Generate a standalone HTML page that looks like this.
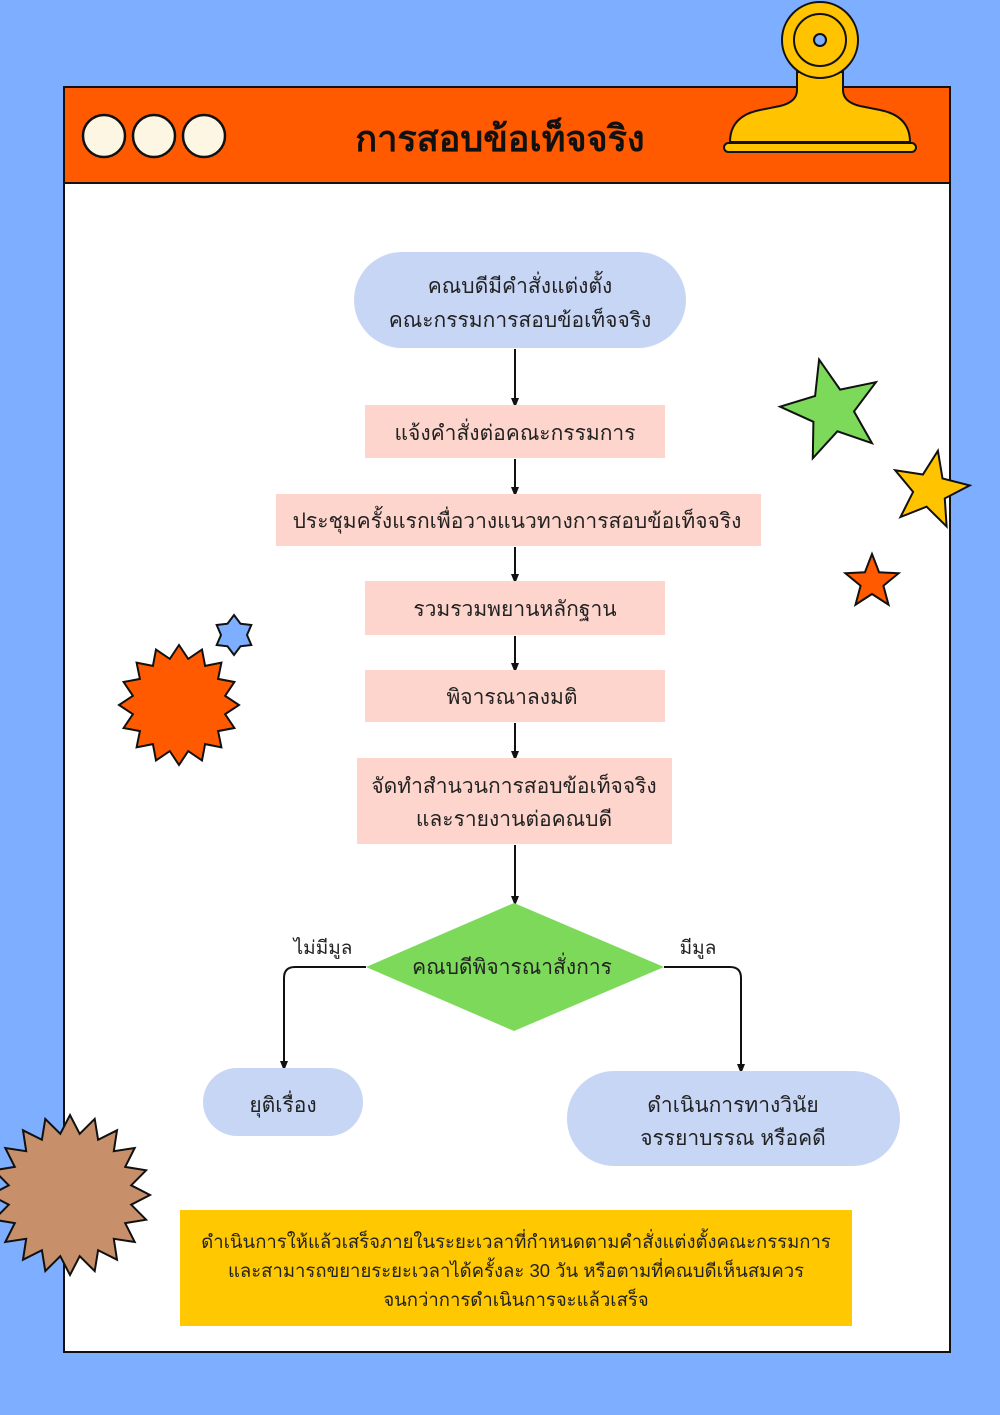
<!DOCTYPE html>
<html><head><meta charset="utf-8">
<style>
html,body{margin:0;padding:0;background:#7eaeff;}
svg{display:block}
text{font-family:"Liberation Sans","DejaVu Sans",sans-serif;fill:#222;}
</style></head>
<body>
<svg id="s" width="1000" height="1415" viewBox="0 0 1000 1415" xmlns="http://www.w3.org/2000/svg">
<defs><marker id="ar" markerWidth="10" markerHeight="10" refX="5" refY="5" orient="auto" markerUnits="userSpaceOnUse"><path d="M0,1 L10,5 L0,9 Z" fill="#111"/></marker></defs>
<rect width="1000" height="1415" fill="#7eaeff"/>
<rect x="64" y="87" width="886" height="1265" fill="#fff" stroke="#111" stroke-width="2"/>
<rect x="64" y="87" width="886" height="96" fill="#ff5a00" stroke="#111" stroke-width="2"/>
<circle cx="104" cy="136" r="21" fill="#fdf6e3" stroke="#111" stroke-width="2.5"/>
<circle cx="154" cy="136" r="21" fill="#fdf6e3" stroke="#111" stroke-width="2.5"/>
<circle cx="204" cy="136" r="21" fill="#fdf6e3" stroke="#111" stroke-width="2.5"/>
<text x="500" y="151" font-size="36" font-weight="bold" text-anchor="middle" style="fill:#111">การสอบข้อเท็จจริง</text>
<!-- clip -->
<path d="M797,72 L797,90 Q797,102 780,106 L760,110 Q730,116 730,142 L910,142 Q910,116 880,110 L860,106 Q843,102 843,90 L843,72 Z" fill="#ffc300" stroke="#111" stroke-width="2"/>
<rect x="724" y="143" width="192" height="9" rx="4.5" fill="#ffc300" stroke="#111" stroke-width="2"/>
<circle cx="820" cy="40" r="38" fill="#ffc300" stroke="#111" stroke-width="2"/>
<circle cx="820" cy="40" r="26" fill="none" stroke="#111" stroke-width="2"/>
<circle cx="820" cy="40" r="6" fill="#7eaeff" stroke="#111" stroke-width="2"/>
<g id="shapes"></g>
<!-- flow -->
<rect x="354" y="252" width="332" height="96" rx="48" fill="#c8d6f6"/>
<text x="520" y="293" font-size="21" text-anchor="middle">คณบดีมีคำสั่งแต่งตั้ง</text>
<text x="520" y="327" font-size="21" text-anchor="middle">คณะกรรมการสอบข้อเท็จจริง</text>
<g stroke="#111" stroke-width="2" marker-end="url(#ar)">
<line x1="515" y1="349" x2="515" y2="403"/>
<line x1="515" y1="459" x2="515" y2="492"/>
<line x1="515" y1="547" x2="515" y2="579"/>
<line x1="515" y1="636" x2="515" y2="668"/>
<line x1="515" y1="723" x2="515" y2="756"/>
<line x1="515" y1="845" x2="515" y2="901"/>
<path d="M366,967 L295,967 Q284,967 284,978 L284,1066" fill="none"/>
<path d="M664,967 L730,967 Q741,967 741,978 L741,1069" fill="none"/>
</g>
<rect x="365" y="405" width="300" height="53" fill="#fdd5cc"/>
<text x="515" y="440" font-size="21" text-anchor="middle">แจ้งคำสั่งต่อคณะกรรมการ</text>
<rect x="276" y="494" width="485" height="52" fill="#fdd5cc"/>
<text x="517" y="528" font-size="21" text-anchor="middle">ประชุมครั้งแรกเพื่อวางแนวทางการสอบข้อเท็จจริง</text>
<rect x="365" y="581" width="300" height="54" fill="#fdd5cc"/>
<text x="515" y="616" font-size="21" text-anchor="middle">รวมรวมพยานหลักฐาน</text>
<rect x="365" y="670" width="300" height="52" fill="#fdd5cc"/>
<text x="512" y="704" font-size="21" text-anchor="middle">พิจารณาลงมติ</text>
<rect x="357" y="758" width="315" height="86" fill="#fdd5cc"/>
<text x="514" y="793" font-size="21" text-anchor="middle">จัดทำสำนวนการสอบข้อเท็จจริง</text>
<text x="514" y="826" font-size="21" text-anchor="middle">และรายงานต่อคณบดี</text>
<polygon points="366,967 514,903 664,967 514,1031" fill="#7dd95a"/>
<text x="512" y="974" font-size="21" text-anchor="middle">คณบดีพิจารณาสั่งการ</text>
<text x="323" y="954" font-size="19" text-anchor="middle">ไม่มีมูล</text>
<text x="698" y="954" font-size="19" text-anchor="middle">มีมูล</text>
<rect x="203" y="1068" width="160" height="68" rx="34" fill="#c8d6f6"/>
<text x="283" y="1112" font-size="21" text-anchor="middle">ยุติเรื่อง</text>
<rect x="567" y="1071" width="333" height="95" rx="47" fill="#c8d6f6"/>
<text x="733" y="1112" font-size="21" text-anchor="middle">ดำเนินการทางวินัย</text>
<text x="733" y="1145" font-size="21" text-anchor="middle">จรรยาบรรณ หรือคดี</text>
<rect x="180" y="1210" width="672" height="116" fill="#ffc800"/>
<text x="516" y="1248" font-size="18.5" text-anchor="middle">ดำเนินการให้แล้วเสร็จภายในระยะเวลาที่กำหนดตามคำสั่งแต่งตั้งคณะกรรมการ</text>
<text x="516" y="1277" font-size="18.5" text-anchor="middle">และสามารถขยายระยะเวลาได้ครั้งละ 30 วัน หรือตามที่คณบดีเห็นสมควร</text>
<text x="516" y="1306" font-size="18.5" text-anchor="middle">จนกว่าการดำเนินการจะแล้วเสร็จ</text>
</svg>
<script>
function star(cx,cy,ro,ri,n,rot,fill){
 var p=[];for(var i=0;i<2*n;i++){var r=i%2?ri:ro;var a=rot+Math.PI*i/n;p.push((cx+r*Math.cos(a)).toFixed(1)+","+(cy+r*Math.sin(a)).toFixed(1));}
 return '<polygon points="'+p.join(" ")+'" fill="'+fill+'" stroke="#111" stroke-width="2" stroke-linejoin="miter"/>';
}
var h="";
h+=star(70,1195,80,62,20,0,"#c8906a");
h+=star(179,705,60,47,16,-Math.PI/2,"#ff5a00");
h+=star(234,635,20,13,6,-Math.PI/2,"#7eaeff");
h+=star(832,410,52,22,5,-Math.PI/2-0.25,"#7dd95a");
h+=star(930,490,40,17,5,-Math.PI/2+0.2,"#ffc300");
h+=star(872,582,28,12,5,-Math.PI/2,"#ff5a00");
document.getElementById("shapes").innerHTML=h;
</script>
</body></html>
